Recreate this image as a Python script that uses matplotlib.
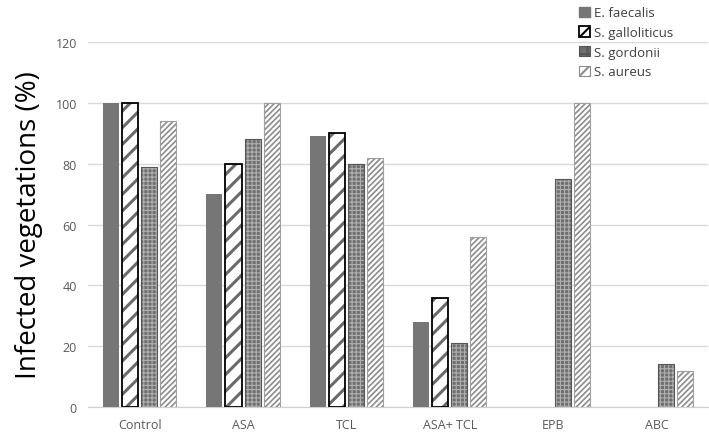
import numpy as np
import matplotlib.pyplot as plt
from matplotlib.patches import Patch

plt.rcParams['font.family'] = ['Open Sans', 'DejaVu Sans']

# Data
categories = ['Control', 'ASA', 'TCL', 'ASA+ TCL', 'EPB', 'ABC']
e_faecalis = [100, 70, 89, 28, 0, 0]
s_galloliticus = [100, 80, 90, 36, 0, 0]
s_gordonii = [79, 88, 80, 21, 75, 14]
s_aureus = [94, 100, 82, 56, 100, 12]
y_ticks = [0, 20, 40, 60, 80, 100, 120]

fig = plt.figure(figsize=(7.09, 4.39), dpi=100)
ax = fig.add_axes([0.124, 0.0706, 0.875, 0.8314])

x = np.arange(len(categories))
w = 0.155
step = 0.184
offs = [-1.5 * step, -0.5 * step, 0.5 * step, 1.5 * step]


def outline(vals, off, color, lw):
    v = np.array(vals)
    m = v > 0
    ax.bar(x[m] + off, v[m], w, fill=False, edgecolor=color, linewidth=lw, zorder=4)


# E. faecalis - solid grey
ax.bar(x + offs[0], e_faecalis, w, color='#767676', linewidth=0, zorder=3)

# S. galloliticus - white with grey diagonal hatch, black outline
plt.rcParams['hatch.linewidth'] = 2.2
ax.bar(x + offs[1], s_galloliticus, w, facecolor='white', edgecolor='#6a6a6a',
       hatch='//', linewidth=0, zorder=3)
outline(s_galloliticus, offs[1], 'black', 1.3)

# S. gordonii - dark dotted
plt.rcParams['hatch.linewidth'] = 0.8
ax.bar(x + offs[2], s_gordonii, w, facecolor='#6f6f6f', edgecolor='#b0b0b0',
       hatch='++++', linewidth=0, zorder=3)
outline(s_gordonii, offs[2], '#555555', 0.8)

# S. aureus - white with dense grey hatch
plt.rcParams['hatch.linewidth'] = 1.2
ax.bar(x + offs[3], s_aureus, w, facecolor='white', edgecolor='#8c8c8c',
       hatch='//////', linewidth=0, zorder=3)
outline(s_aureus, offs[3], '#a0a0a0', 0.8)

# legend proxies
plt.rcParams['hatch.linewidth'] = 1.5
handles = [
    Patch(facecolor='#767676', edgecolor='#767676', label='E. faecalis'),
    Patch(facecolor='white', edgecolor='black', hatch='//', linewidth=1.3, label='S. galloliticus'),
    Patch(facecolor='#6f6f6f', edgecolor='#555555', hatch='++', linewidth=0.8, label='S. gordonii'),
    Patch(facecolor='white', edgecolor='#8c8c8c', hatch='///', linewidth=0.8, label='S. aureus'),
]
fig.legend(handles=handles, loc='upper left', bbox_to_anchor=(0.8, 1.01),
           frameon=False, fontsize=9.5, handlelength=0.8, handleheight=0.8,
           handletextpad=0.3, labelspacing=0.5, labelcolor='#404040')

ax.set_xlim(-0.5, len(categories) - 0.5)
ax.set_ylim(0, 120)
ax.set_yticks(y_ticks)
ax.set_xticks(x)
ax.set_xticklabels(categories)
ax.tick_params(axis='both', length=0, labelsize=9, colors='#595959', pad=8)
ax.grid(axis='y', color='#d9d9d9', linewidth=1, zorder=0)
ax.set_axisbelow(True)
for s in ['top', 'right', 'left']:
    ax.spines[s].set_visible(False)
ax.spines['bottom'].set_color('#d0d0d0')
ax.set_ylabel('Infected vegetations (%)', fontsize=20, color='black', labelpad=9)

fig.savefig('out.png', dpi=100)
